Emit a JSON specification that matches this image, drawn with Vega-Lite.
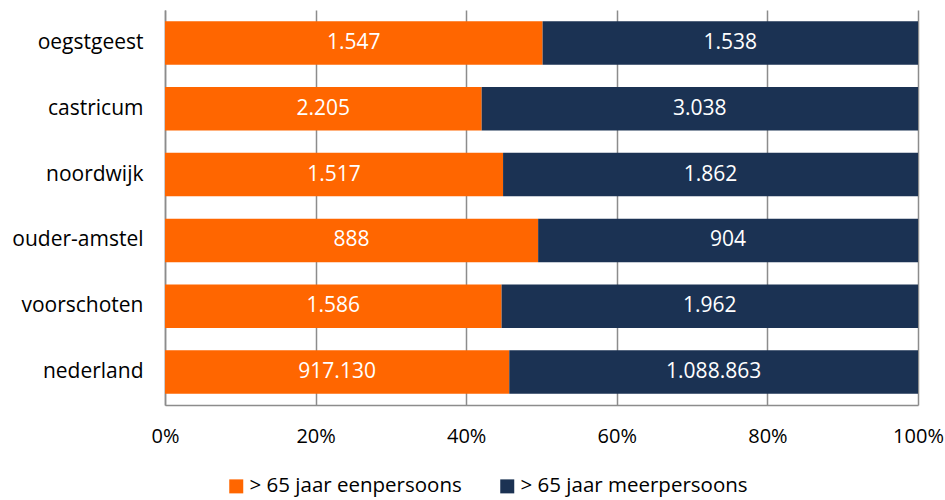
{
  "$schema": "https://vega.github.io/schema/vega-lite/v6.json",
  "autosize": "none",
  "width": 753,
  "height": 395,
  "padding": {"left": 165, "top": 10, "right": 27, "bottom": 95},
  "background": "white",
  "config": {
    "locale": {"number": {"decimal": ",", "thousands": ".", "grouping": [3], "currency": ["€", ""]}},
    "font": "Open Sans",
    "view": {"stroke": null}
  },
  "data": {
    "values": [
      {"gemeente": "oegstgeest", "cat": "> 65 jaar eenpersoons", "n": 1547},
      {"gemeente": "oegstgeest", "cat": "> 65 jaar meerpersoons", "n": 1538},
      {"gemeente": "castricum", "cat": "> 65 jaar eenpersoons", "n": 2205},
      {"gemeente": "castricum", "cat": "> 65 jaar meerpersoons", "n": 3038},
      {"gemeente": "noordwijk", "cat": "> 65 jaar eenpersoons", "n": 1517},
      {"gemeente": "noordwijk", "cat": "> 65 jaar meerpersoons", "n": 1862},
      {"gemeente": "ouder-amstel", "cat": "> 65 jaar eenpersoons", "n": 888},
      {"gemeente": "ouder-amstel", "cat": "> 65 jaar meerpersoons", "n": 904},
      {"gemeente": "voorschoten", "cat": "> 65 jaar eenpersoons", "n": 1586},
      {"gemeente": "voorschoten", "cat": "> 65 jaar meerpersoons", "n": 1962},
      {"gemeente": "nederland", "cat": "> 65 jaar eenpersoons", "n": 917130},
      {"gemeente": "nederland", "cat": "> 65 jaar meerpersoons", "n": 1088863}
    ]
  },
  "transform": [
    {"stack": "n", "groupby": ["gemeente"], "sort": [{"field": "cat", "order": "ascending"}], "offset": "normalize", "as": ["x0", "x1"]},
    {"calculate": "(datum.x0 + datum.x1) / 2", "as": "xm"}
  ],
  "encoding": {
    "y": {
      "field": "gemeente",
      "type": "nominal",
      "sort": null,
      "scale": {"paddingInner": 0.34, "paddingOuter": 0.17},
      "axis": {
        "title": null,
        "ticks": false,
        "labelFontSize": 21,
        "labelColor": "#000000",
        "labelPadding": 22,
        "domainColor": "#8c8c8c",
        "domainWidth": 1.5
      }
    }
  },
  "layer": [
    {
      "mark": {"type": "bar"},
      "encoding": {
        "x": {
          "field": "x0",
          "type": "quantitative",
          "scale": {"domain": [0, 1], "nice": false},
          "axis": {
            "title": null,
            "format": ".0%",
            "values": [0, 0.2, 0.4, 0.6, 0.8, 1],
            "grid": true,
            "gridColor": "#8c8c8c",
            "gridWidth": 1.5,
            "ticks": false,
            "domainColor": "#8c8c8c",
            "domainWidth": 1.5,
            "labelFontSize": 20,
            "labelColor": "#000000",
            "labelPadding": 21,
            "labelFlush": false
          }
        },
        "x2": {"field": "x1"},
        "color": {
          "field": "cat",
          "type": "nominal",
          "scale": {"domain": ["> 65 jaar eenpersoons", "> 65 jaar meerpersoons"], "range": ["#ff6600", "#1b3253"]},
          "legend": {
            "title": null,
            "orient": "none",
            "direction": "horizontal",
            "legendX": 61,
            "legendY": 466,
            "symbolType": "square",
            "symbolSize": 196,
            "symbolStrokeWidth": 0,
            "symbolOpacity": 1,
            "labelFontSize": 20.5,
            "labelColor": "#000000",
            "labelOffset": 3,
            "columnPadding": 35,
            "labelLimit": 400
          }
        }
      }
    },
    {
      "mark": {"type": "text", "color": "white", "fontSize": 21, "baseline": "middle", "align": "center"},
      "encoding": {
        "x": {"field": "xm", "type": "quantitative"},
        "text": {"field": "n", "type": "quantitative", "format": ",d"}
      }
    }
  ]
}
